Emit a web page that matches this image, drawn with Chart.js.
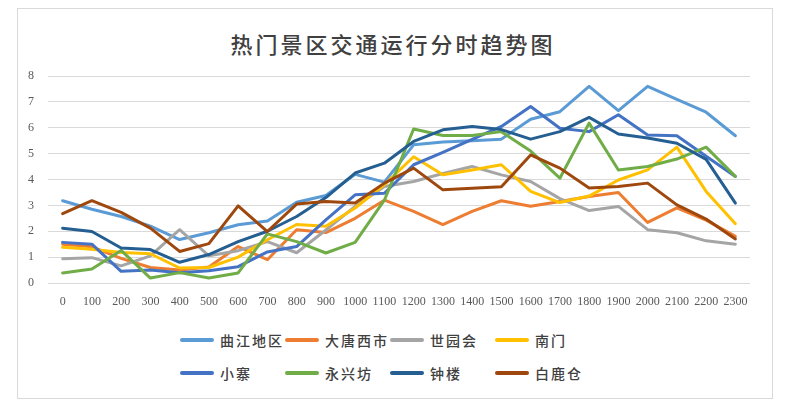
<!DOCTYPE html>
<html>
<head>
<meta charset="utf-8">
<script src="https://cdn.jsdelivr.net/npm/chart.js@4"></script>
<style>
    body { margin: 0; width: 800px; height: 409px; background: #fff; position: relative; overflow: hidden; }
    #frame { position: absolute; left: 17px; top: 8px; width: 754px; height: 389px; border: 1px solid #d9d9d9; }
    #title { position: absolute; left: 0; top: 27px; width: 786px; text-align: center;
             font: 500 22px "Noto Sans CJK SC", sans-serif; color: #404040; letter-spacing: 3px; }
    #chart { position: absolute; left: 0; top: 0; }
    #legend { position: absolute; left: 0; top: 0; }
    .item { position: absolute; height: 20px; display: flex; align-items: center;
            font: 500 14px "Noto Sans CJK SC", sans-serif; color: #404040; letter-spacing: 2px; white-space: nowrap; }
    .swatch { width: 34px; height: 4px; border-radius: 2px; margin-right: 6px; }
</style>
</head>
<body>
<div id="frame"></div>
<div id="title">热门景区交通运行分时趋势图</div>
<canvas id="chart" width="800" height="320"></canvas>
<div id="legend"></div>
<script>
'use strict';

var hours = ['0', '100', '200', '300', '400', '500', '600', '700', '800', '900', '1000', '1100',
    '1200', '1300', '1400', '1500', '1600', '1700', '1800', '1900', '2000', '2100', '2200', '2300'];

var names = ['曲江地区', '大唐西市', '世园会', '南门', '小寨', '永兴坊', '钟楼', '白鹿仓'];
var colors = ['#5B9BD5', '#ED7D31', '#A5A5A5', '#FFC000', '#4472C4', '#70AD47', '#255E91', '#9E480E'];

var qujiang  = [3.18, 2.85, 2.57, 2.2, 1.68, 1.94, 2.25, 2.4, 3.12, 3.38, 4.2, 3.9, 5.34, 5.45, 5.5, 5.56, 6.33, 6.62, 7.6, 6.66, 7.6, 7.1, 6.6, 5.69];
var datang   = [1.5, 1.4, 0.95, 0.6, 0.5, 0.62, 1.41, 0.9, 2.06, 1.95, 2.5, 3.2, 2.77, 2.26, 2.77, 3.18, 2.97, 3.15, 3.34, 3.5, 2.34, 2.9, 2.43, 1.8];
var shiyuan  = [0.94, 0.98, 0.66, 1.05, 2.06, 1.05, 1.25, 1.6, 1.17, 2.05, 2.96, 3.73, 3.92, 4.23, 4.5, 4.18, 3.92, 3.26, 2.8, 2.96, 2.06, 1.94, 1.63, 1.5];
var nanmen   = [1.38, 1.3, 1.18, 1.13, 0.58, 0.6, 1.0, 1.67, 2.26, 2.19, 2.9, 3.8, 4.88, 4.18, 4.37, 4.57, 3.54, 3.11, 3.36, 3.98, 4.37, 5.25, 3.54, 2.29];
var xiaozhai = [1.57, 1.5, 0.45, 0.5, 0.4, 0.47, 0.63, 1.2, 1.41, 2.44, 3.41, 3.47, 4.57, 5.05, 5.55, 6.05, 6.82, 5.98, 5.85, 6.5, 5.72, 5.69, 4.9, 4.12];
var yongxing = [0.39, 0.54, 1.26, 0.19, 0.4, 0.19, 0.39, 1.9, 1.6, 1.16, 1.57, 3.2, 5.95, 5.7, 5.7, 5.85, 5.1, 4.05, 6.18, 4.37, 4.5, 4.79, 5.25, 4.12];
var zhonglou = [2.12, 1.99, 1.35, 1.29, 0.8, 1.1, 1.6, 2.0, 2.57, 3.3, 4.25, 4.63, 5.47, 5.92, 6.05, 5.93, 5.56, 5.85, 6.4, 5.76, 5.6, 5.4, 4.78, 3.09];
var bailu    = [2.68, 3.18, 2.73, 2.12, 1.22, 1.52, 2.98, 1.99, 3.05, 3.15, 3.09, 3.86, 4.44, 3.6, 3.66, 3.72, 4.95, 4.44, 3.67, 3.73, 3.86, 3.02, 2.47, 1.7];

var series = [qujiang, datang, shiyuan, nanmen, xiaozhai, yongxing, zhonglou, bailu];

var yMin = 0;
var yMax = 8;

function buildDatasets() {
    var datasets = [];
    for (var i = 0; i < series.length; i++) {
        datasets[i] = {
            label: names[i],
            data: series[i],
            borderColor: colors[i],
            backgroundColor: colors[i],
            borderWidth: 3,
            borderJoinStyle: 'round',
            borderCapStyle: 'round',
            pointRadius: 0,
            tension: 0,
            fill: false,
            // later series on top, as in the original
            order: series.length - i
        };
    }
    return datasets;
}

function buildLegend() {
    var legend = document.getElementById('legend');
    var colX = [180, 285, 390, 495];
    var rowY = [340, 373];
    for (var i = 0; i < names.length; i++) {
        var item = document.createElement('div');
        item.className = 'item';
        item.style.left = colX[i % 4] + 'px';
        item.style.top = (rowY[Math.floor(i / 4)] - 10) + 'px';

        var swatch = document.createElement('span');
        swatch.className = 'swatch';
        swatch.style.background = colors[i];

        item.appendChild(swatch);
        item.appendChild(document.createTextNode(names[i]));
        legend.appendChild(item);
    }
}

var ctx = document.getElementById('chart').getContext('2d');

var lineChart = new Chart(ctx, {
    type: 'line',
    data: {
        labels: hours,
        datasets: buildDatasets()
    },
    options: {
        responsive: false,
        animation: false,
        layout: {
            padding: { left: 16, right: 50, top: 76, bottom: 0 }
        },
        plugins: {
            legend: { display: false },
            title: { display: false },
            tooltip: { enabled: false }
        },
        scales: {
            x: {
                offset: true,
                grid: { display: false, drawTicks: false },
                border: { display: false },
                ticks: {
                    color: '#595959',
                    font: { family: 'Liberation Serif', size: 12 },
                    padding: 12,
                    maxRotation: 0,
                    autoSkip: false
                },
                afterFit: function (scale) { scale.height = 37; }
            },
            y: {
                min: yMin,
                max: yMax,
                grid: { color: '#d9d9d9', lineWidth: 1, drawTicks: false },
                border: { display: false },
                ticks: {
                    stepSize: 1,
                    color: '#595959',
                    font: { family: 'Liberation Serif', size: 12 },
                    padding: 14
                },
                afterFit: function (scale) { scale.width = 32; }
            }
        }
    }
});

buildLegend();
</script>
</body>
</html>
